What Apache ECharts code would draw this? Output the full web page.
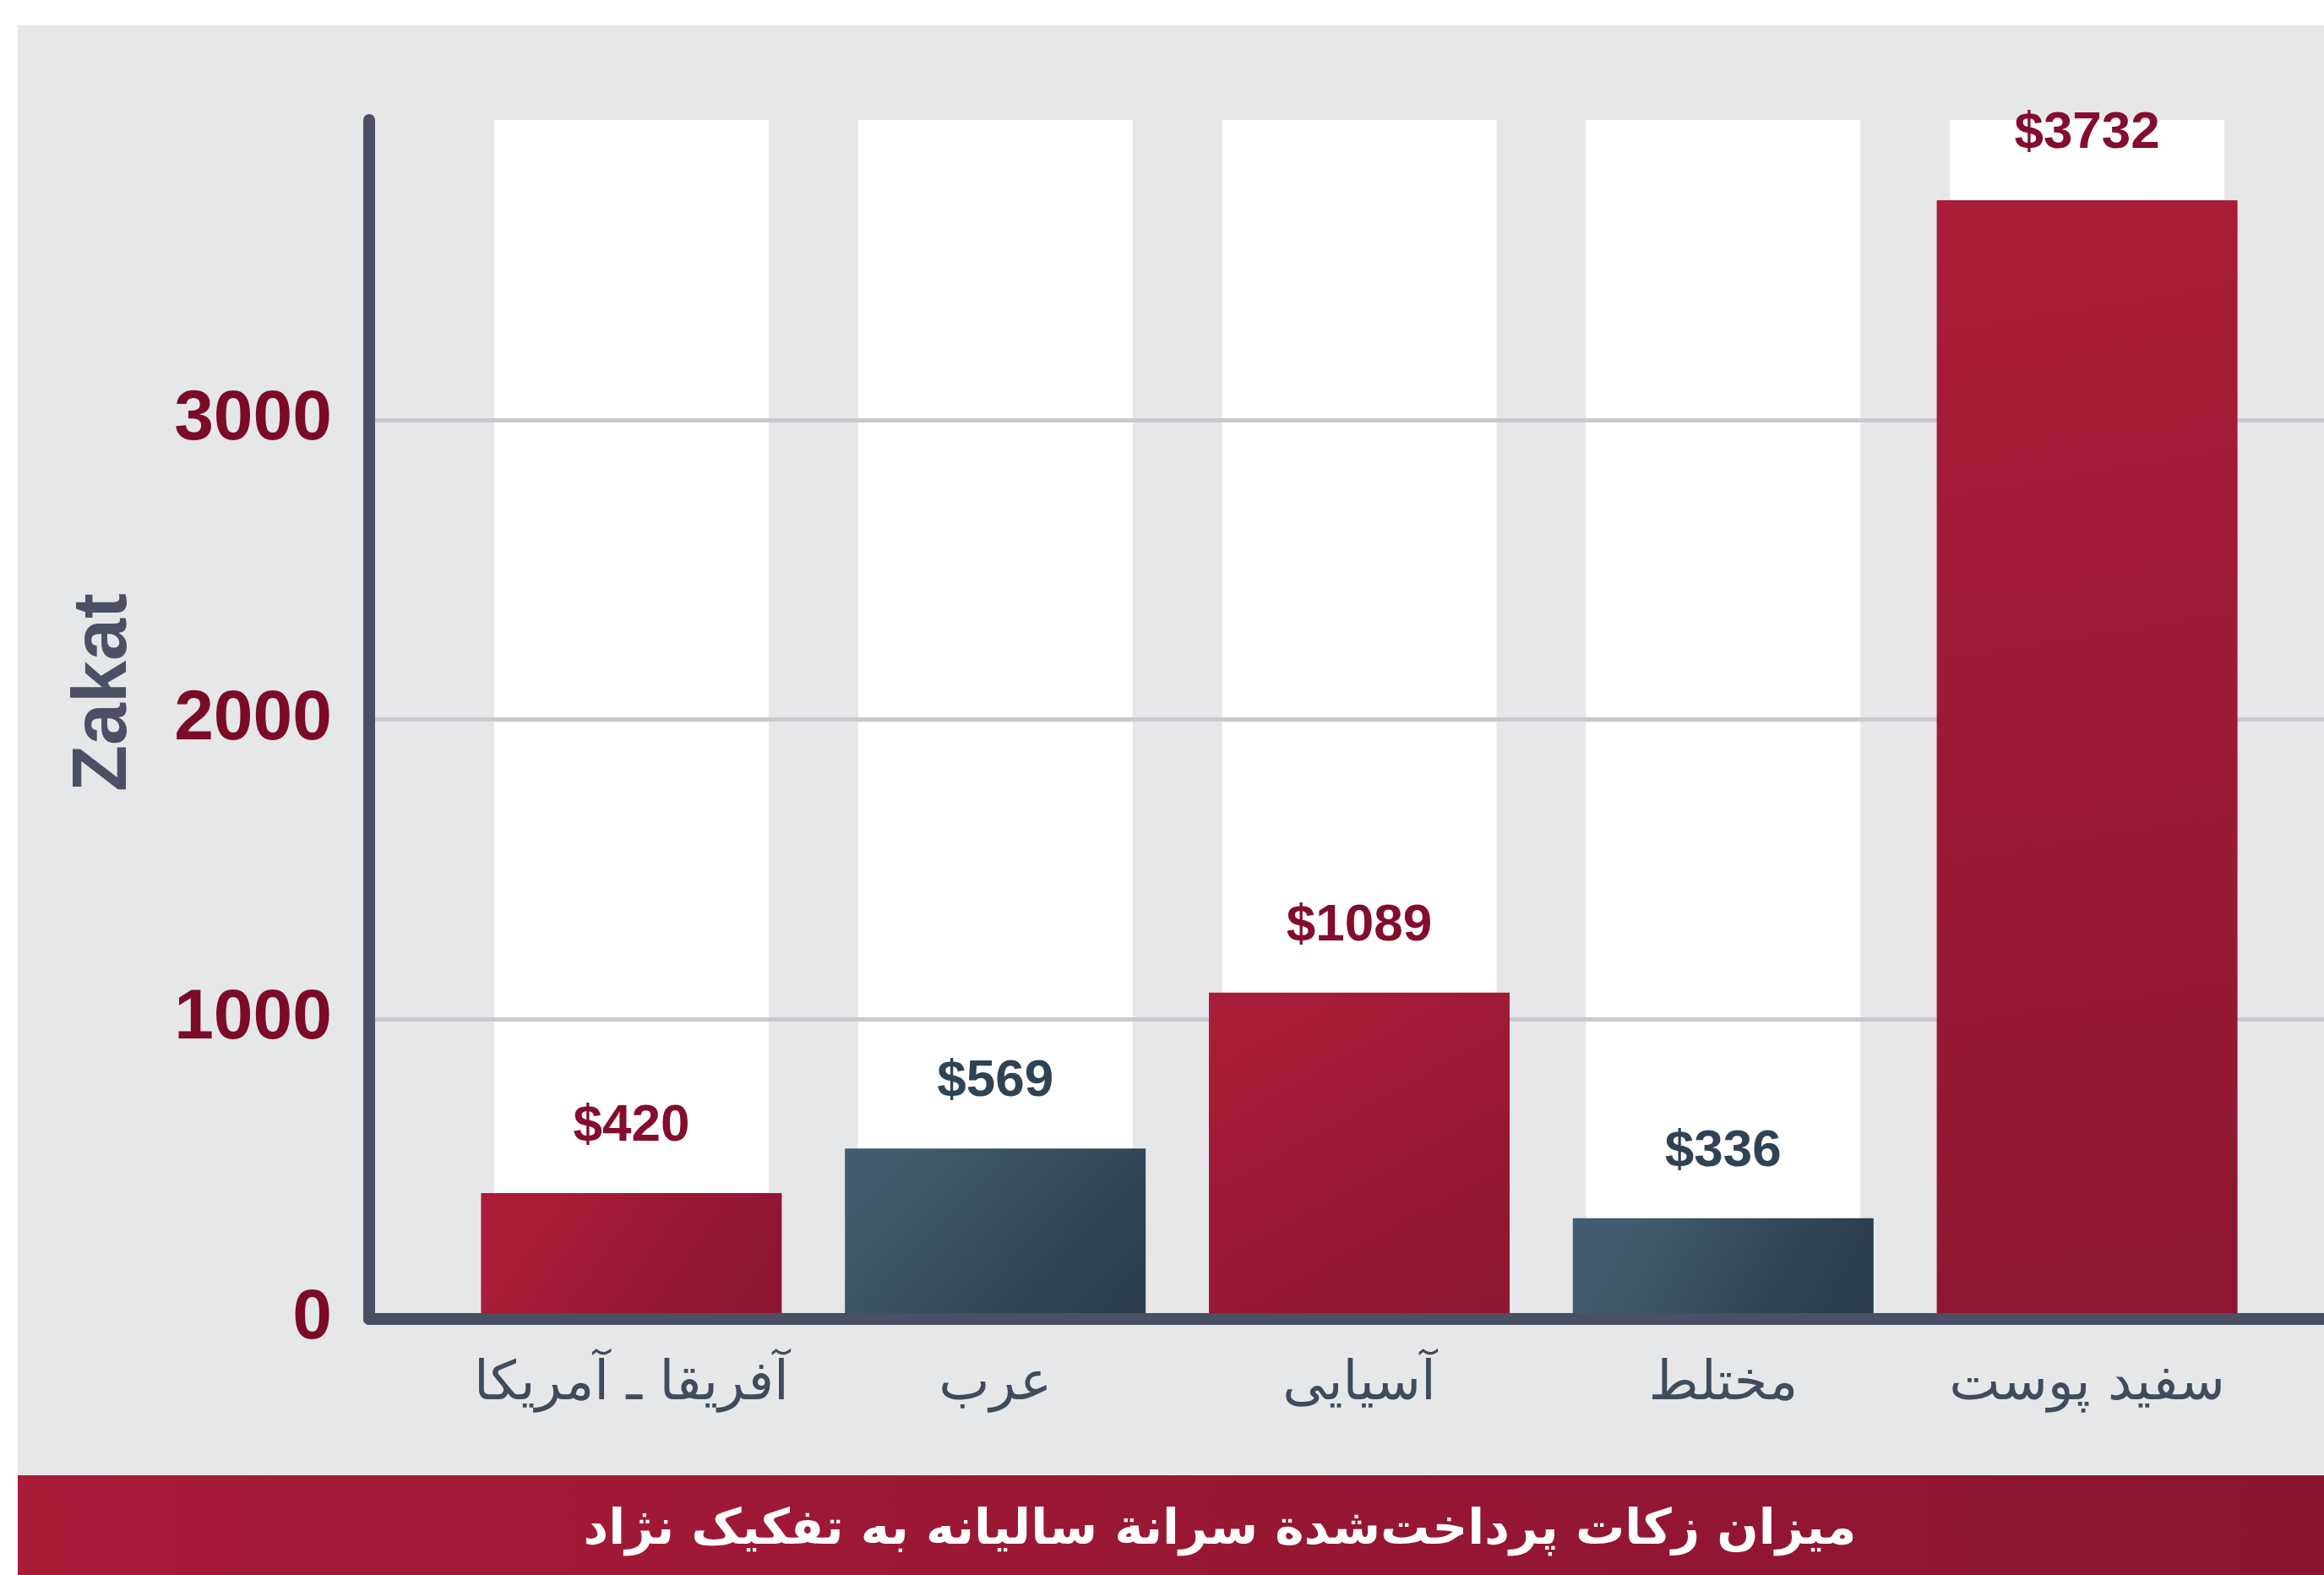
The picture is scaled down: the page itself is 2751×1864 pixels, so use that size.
<!DOCTYPE html>
<html style="height: 100%">
<head>
    <meta charset="utf-8">
</head>
<body style="height: 100%; margin: 0; background: #ffffff">
    <div id="container" style="height: 100%"></div>
    <script type="text/javascript" src="https://cdn.jsdelivr.net/npm/echarts@6/dist/echarts.min.js"></script>
    <script type="text/javascript">
var categories = ['آفریقا ـ آمریکا', 'عرب', 'آسیایی', 'مختلط', 'سفید پوست'];
var zakatValues = [420, 569, 1089, 336, 3732];
var yTicks = [0, 1000, 2000, 3000, 4000];
var axisName = 'Zakat';
var titleText = 'میزان زکات پرداخت‌شدة سرانة سالیانه به تفکیک نژاد';

// style per bar: red / slate alternate
var barTone = ['red', 'slate', 'red', 'slate', 'red'];
var tones = {
    red:   { top: '#aa1d38', bottom: '#8e1630', label: '#830d2b' },
    slate: { top: '#405c6e', bottom: '#2c3f4d', label: '#2e4354' }
};

var yMin = yTicks[0];
var yMax = yTicks[yTicks.length - 1];
var yStep = yTicks[1] - yTicks[0];

var dom = document.getElementById("container");
var myChart = echarts.init(dom);

var barData = zakatValues.map(function (v, i) {
    var t = tones[barTone[i]];
    return {
        value: v,
        itemStyle: {
            color: new echarts.graphic.LinearGradient(0.2, 0, 0.8, 1, [
                { offset: 0, color: t.top },
                { offset: 1, color: t.bottom }
            ])
        },
        label: { color: t.label }
    };
});

var option = {
    backgroundColor: '#ffffff',
    animation: false,
    graphic: [
        {
            type: 'rect', z: -10, silent: true,
            shape: { x: 21, y: 30, width: 2730, height: 1716 },
            style: { fill: '#e6e7e9' }
        },
        {
            type: 'rect', z: 10, silent: true,
            shape: { x: 21, y: 1746, width: 2730, height: 118 },
            style: {
                fill: new echarts.graphic.LinearGradient(0, 0, 1, 0, [
                    { offset: 0, color: '#a71b37' },
                    { offset: 1, color: '#8a1430' }
                ])
            }
        },
        {
            type: 'text', z: 11, silent: true,
            x: 1444, y: 1812,
            style: {
                text: titleText,
                fill: '#ffffff',
                font: 'bold 58px "DejaVu Sans"',
                textAlign: 'center',
                textVerticalAlign: 'middle'
            }
        }
    ],
    grid: [
        { left: 437, right: 0, top: 142, bottom: 303 },
        { left: 532, right: 65, top: 142, bottom: 303 }
    ],
    xAxis: [
        {
            gridIndex: 0, type: 'value', min: 0, max: 1, z: 4,
            axisLine: { show: true, lineStyle: { color: '#4a4f63', width: 14, cap: 'round' } },
            axisTick: { show: false },
            axisLabel: { show: false },
            splitLine: { show: false }
        },
        {
            gridIndex: 1, type: 'category', data: categories,
            axisLine: { show: false },
            axisTick: { show: false },
            axisLabel: {
                interval: 0,
                margin: 46,
                color: '#3e4c5b',
                fontFamily: 'DejaVu Sans',
                fontSize: 64
            }
        },
        { gridIndex: 1, type: 'category', data: categories, show: false }
    ],
    yAxis: [
        {
            gridIndex: 0, type: 'value', min: yMin, max: yMax, interval: yStep, z: 2,
            name: axisName,
            nameLocation: 'middle',
            nameGap: 268,
            nameRotate: 90,
            nameTextStyle: {
                color: '#4b5064',
                fontSize: 90,
                fontWeight: 'bold',
                fontFamily: 'Liberation Sans',
                padding: [0, 0, 0, 64]
            },
            axisLine: { show: true, lineStyle: { color: '#4a4f63', width: 14, cap: 'round' } },
            axisTick: { show: false },
            axisLabel: {
                showMaxLabel: false,
                margin: 44,
                color: '#7c0b27',
                fontSize: 84,
                fontWeight: 'bold',
                fontFamily: 'Liberation Sans',
                formatter: function (v) { return String(v); }
            },
            splitLine: {
                show: true,
                showMinLine: false,
                showMaxLine: false,
                lineStyle: { color: '#c8c9cc', width: 5 }
            }
        },
        { gridIndex: 1, type: 'value', min: yMin, max: yMax, show: false }
    ],
    series: [
        {
            // white column behind each bar
            type: 'bar', xAxisIndex: 2, yAxisIndex: 1, z: 1, silent: true,
            barWidth: 325,
            data: categories.map(function () { return yMax; }),
            itemStyle: { color: '#ffffff' }
        },
        {
            name: axisName,
            type: 'bar', xAxisIndex: 1, yAxisIndex: 1, z: 3,
            barWidth: 356,
            data: barData,
            label: {
                show: true,
                position: 'top',
                distance: 48,
                formatter: function (p) { return '$' + p.value; },
                fontSize: 62,
                fontWeight: 'bold',
                fontFamily: 'Liberation Sans'
            }
        }
    ]
};
if (option && typeof option === "object") {
    myChart.setOption(option, true);
}
</script>
</body>
</html>
